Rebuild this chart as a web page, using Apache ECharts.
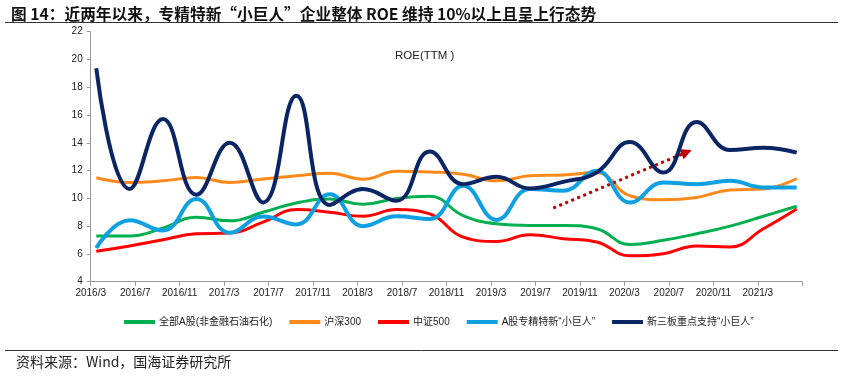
<!DOCTYPE html>
<html><head><meta charset="utf-8">
<script src="https://cdn.jsdelivr.net/npm/echarts@6/dist/echarts.min.js"></script>
<style>html,body{margin:0;padding:0;background:#fff}#c{width:848px;height:381px}</style>
</head><body><div id="c"></div>
<script>
const quarters = ['2016/3','2016/6','2016/9','2016/12','2017/3','2017/6','2017/9','2017/12','2018/3','2018/6','2018/9','2018/12','2019/3','2019/6','2019/9','2019/12','2020/3','2020/6','2020/9','2020/12','2021/3','2021/6'];
const tickLabels = ['2016/3','2016/7','2016/11','2017/3','2017/7','2017/11','2018/3','2018/7','2018/11','2019/3','2019/7','2019/11','2020/3','2020/7','2020/11','2021/3'];
const allA  = [7.29,7.29,7.86,8.64,8.38,9.0,9.67,9.95,9.57,10.0,10.15,8.76,8.17,8.05,8.05,7.81,6.67,6.98,7.45,8.0,8.71,9.43];
const hs300 = [11.48,11.14,11.26,11.5,11.14,11.4,11.62,11.81,11.38,11.95,11.9,11.74,11.26,11.62,11.69,11.86,10.19,9.9,10.07,10.6,10.67,11.43];
const zz500 = [6.19,6.57,7.02,7.45,7.5,8.29,9.19,9.0,8.71,9.19,8.88,7.21,6.9,7.38,7.1,6.86,5.86,6.02,6.57,6.5,7.81,9.24];
const aGiant = [6.43,8.43,7.69,9.95,7.52,8.69,8.12,10.29,8.0,8.71,8.52,10.9,8.45,10.67,10.55,11.98,9.71,11.14,11.02,11.26,10.79,10.79];
const neeqGiant = [19.36,10.67,15.71,10.26,14.0,9.71,17.38,9.52,10.67,9.83,13.38,11.02,11.55,10.71,11.19,11.86,14.05,11.86,15.5,13.48,13.64,13.29];
const seriesNames = ['全部A股(非金融石油石化)','沪深300','中证500','A股专精特新“小巨人”','新三板重点支持“小巨人”'];
const arrowFrom = ['2019/8', 9.3];
const arrowTo = ['2020/8', 13.33];

function monthIdx(lbl, frac){ const [y,m]=lbl.split('/').map(Number); return (y-2016)*12+(m-3)+(frac||0); }
const pts = arr => arr.map((v,i)=>[monthIdx(quarters[i],0.5), v]);

const chart = echarts.init(document.getElementById('c'));
const colors = ['#00B050','#FF8A1C','#FF0000','#0FA0E2','#0A2564'];
const widths = [3,3,3,4,4];
const datas = [allA,hs300,zz500,aGiant,neeqGiant];
const series = datas.map((d,i)=>({
  name: seriesNames[i], type:'line', data: pts(d), smooth:0.45, showSymbol:false, symbol:'none',
  lineStyle:{color:colors[i], width:widths[i]}, itemStyle:{color:colors[i]}, z: i+2
}));
series[4].markLine = {
  silent:true, symbol:['none','triangle'], symbolSize:[11,11],
  label:{show:false},
  lineStyle:{color:'#C00000', width:3, type:[3,3.5], opacity:1},
  data:[[{coord:[monthIdx(arrowFrom[0],0.6), arrowFrom[1]]},{coord:[monthIdx(arrowTo[0],0.6), arrowTo[1]]}]]
};
chart.setOption({
  animation:false,
  title:{text:'图 14：近两年以来，专精特新“小巨人”企业整体 ROE 维持 10%以上且呈上行态势', left:6, top:1,
    textStyle:{fontFamily:'Noto Sans CJK SC', fontWeight:'bold', fontSize:15.7, color:'#111'}},
  grid:{left:90.7, right:45.7, top:31.7, bottom:99.3},
  legend:{data:seriesNames, left:124, top:317, padding:0, icon:'rect', itemWidth:31, itemHeight:4, itemGap:17,
    textStyle:{fontFamily:'Liberation Sans, Noto Sans CJK SC', fontSize:10, color:'#222', padding:[0,0,0,-1]}},
  xAxis:{type:'value', min:0, max:64, interval:4,
    axisLine:{lineStyle:{color:'#999'}}, axisTick:{show:true, length:4, inside:false, lineStyle:{color:'#999'}},
    splitLine:{show:false},
    axisLabel:{color:'#222', fontSize:10, fontFamily:'Liberation Sans', margin:7,
      formatter:v=>tickLabels[v/4]||''}},
  yAxis:{type:'value', min:4, max:22, interval:2,
    axisLine:{show:true, lineStyle:{color:'#999'}}, axisTick:{show:true, length:4, lineStyle:{color:'#999'}},
    splitLine:{show:false},
    axisLabel:{color:'#222', fontSize:10, fontFamily:'Liberation Sans', margin:8}},
  graphic:[
    {type:'line', shape:{x1:5,y1:22.5,x2:838,y2:22.5}, style:{stroke:'#333', lineWidth:1}},
    {type:'line', shape:{x1:5,y1:350.5,x2:838,y2:350.5}, style:{stroke:'#333', lineWidth:1}},
    {type:'text', left:16, top:355, style:{text:'资料来源：Wind，国海证券研究所', fontFamily:'Noto Sans CJK SC', fontSize:14, fill:'#222'}},
    {type:'text', left:395, top:50, style:{text:'ROE(TTM )', fontFamily:'Liberation Sans', fontSize:11.5, fill:'#222'}}
  ],
  series
});
</script></body></html>
